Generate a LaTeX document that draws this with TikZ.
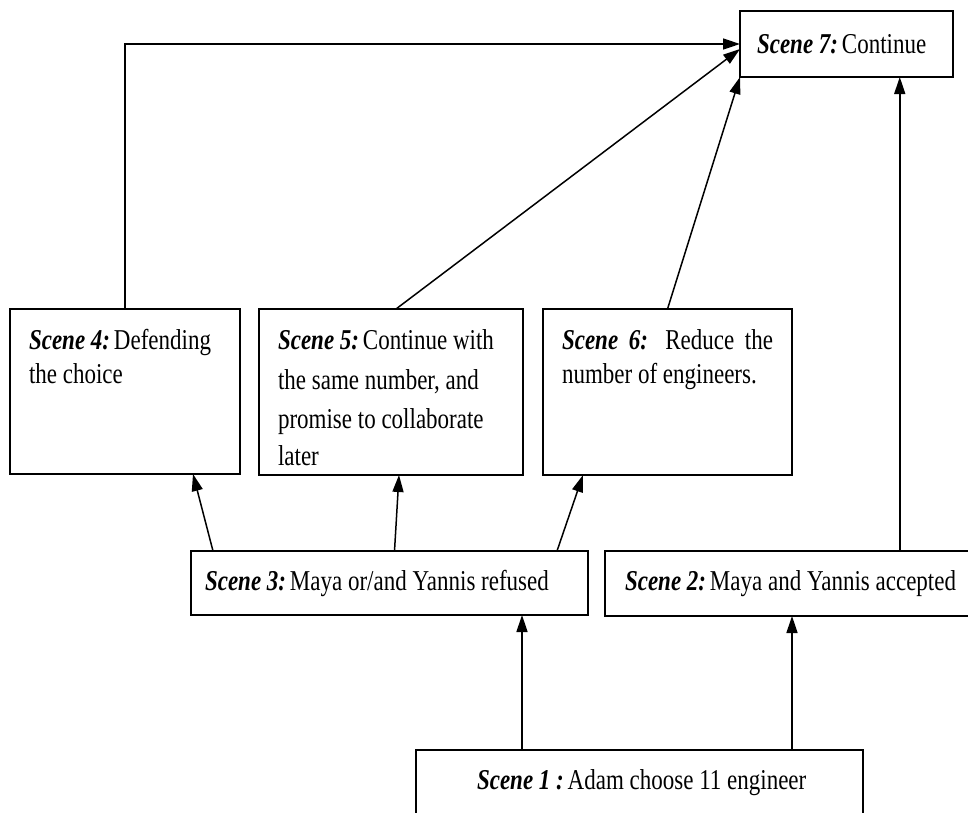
\documentclass[tikz,border=0pt]{standalone}
\usepackage{fontspec}
\setmainfont{Liberation Serif}
\usetikzlibrary{arrows.meta,calc}
\newcommand{\scn}[1]{\textbf{\textit{#1}}}
% taller, narrow-looking lettering
\newcommand{\tall}[1]{\scalebox{1}[1.25]{#1}}
\begin{document}
\begin{tikzpicture}[x=1pt,y=-1pt,
  box/.style={draw=black,line width=1.8pt,inner sep=0pt,outer sep=0pt},
  txt/.style={inner sep=0pt,outer sep=0pt,align=left,font=\fontsize{23}{34}\selectfont},
  arr/.style={line width=1.5pt,-{Triangle[length=17pt,width=11pt]}}]
\clip (0,0) rectangle (968,812);
\fill[white] (0,0) rectangle (968,812);

% boxes
\node[box,minimum width=213pt,minimum height=66pt] (s7) at (846.5,44) {};
\node[box,minimum width=230pt,minimum height=165pt] (s4) at (125,391.5) {};
\node[box,minimum width=264pt,minimum height=166pt] (s5) at (391,392) {};
\node[box,minimum width=249pt,minimum height=166pt] (s6) at (667.5,392) {};
\node[box,minimum width=397pt,minimum height=64pt] (s3) at (389.5,583) {};
\node[box,minimum width=380pt,minimum height=65pt] (s2) at (795,583.5) {};
\node[box,minimum width=447pt,minimum height=110pt] (s1) at (639.5,805) {};

% texts
\node[txt,anchor=base west] (t7) at (757,53) {\tall{\scn{Scene 7:}\,Continue}};
\node[txt,anchor=base west] (t4a) at (29,349) {\tall{\scn{Scene 4:}\,Defending}};
\node[txt,anchor=base west] (t4b) at (29,383) {\tall{the choice}};
\node[txt,anchor=base west] (t5a) at (278,349) {\tall{\scn{Scene 5:}\,Continue with}};
\node[txt,anchor=base west] (t5b) at (278,389) {\tall{the same number, and}};
\node[txt,anchor=base west] (t5c) at (278,428) {\tall{promise to collaborate}};
\node[txt,anchor=base west] (t5d) at (278,465) {\tall{later}};
\node[txt,anchor=base west] (t6a) at (562,349) {\tall{\makebox[211pt][s]{\scn{Scene} \scn{6:} Reduce the}}};
\node[txt,anchor=base west] (t6b) at (562,383) {\tall{number of engineers.}};
\node[txt,anchor=base west] (t3) at (205,590) {\tall{\scn{Scene 3:}\,Maya or/and Yannis refused}};
\node[txt,anchor=base west] (t2) at (625,590) {\tall{\scn{Scene 2:}\,Maya and Yannis accepted}};
\node[txt,anchor=base west] (t1) at (477,789) {\tall{\scn{Scene 1 :}\,Adam choose 11 engineer}};

% connectors into Scene 7
\coordinate (s7in) at ($(s7.south west)!0.75!(s7.south east)$);
\draw[arr] (s4.north) |- (s7.west);
\draw[arr] ($(s5.north)+(5,0)$) -- ($(s7.west)+(0,5)$);
\draw[arr] (s6.north) -- (s7.south west);
\draw[arr] (s2.north -| s7in) -- (s7in);

% connectors out of Scene 3
\draw[arr] ($(s3.north west)+(22,0)$) -- ($(s4.south east)+(-47,0)$);
\draw[arr] ($(s3.north)+(5,0)$) -- ($(s5.south)+(8,0)$);
\draw[arr] ($(s3.north east)+(-31,0)$) -- ($(s6.south west)+(40,0)$);

% connectors out of Scene 1
\draw[arr] (s1.north -| 522,0) -- (s3.south -| 522,0);
\draw[arr] (s1.north -| 792,0) -- (s2.south -| 792,0);
\end{tikzpicture}
\end{document}
